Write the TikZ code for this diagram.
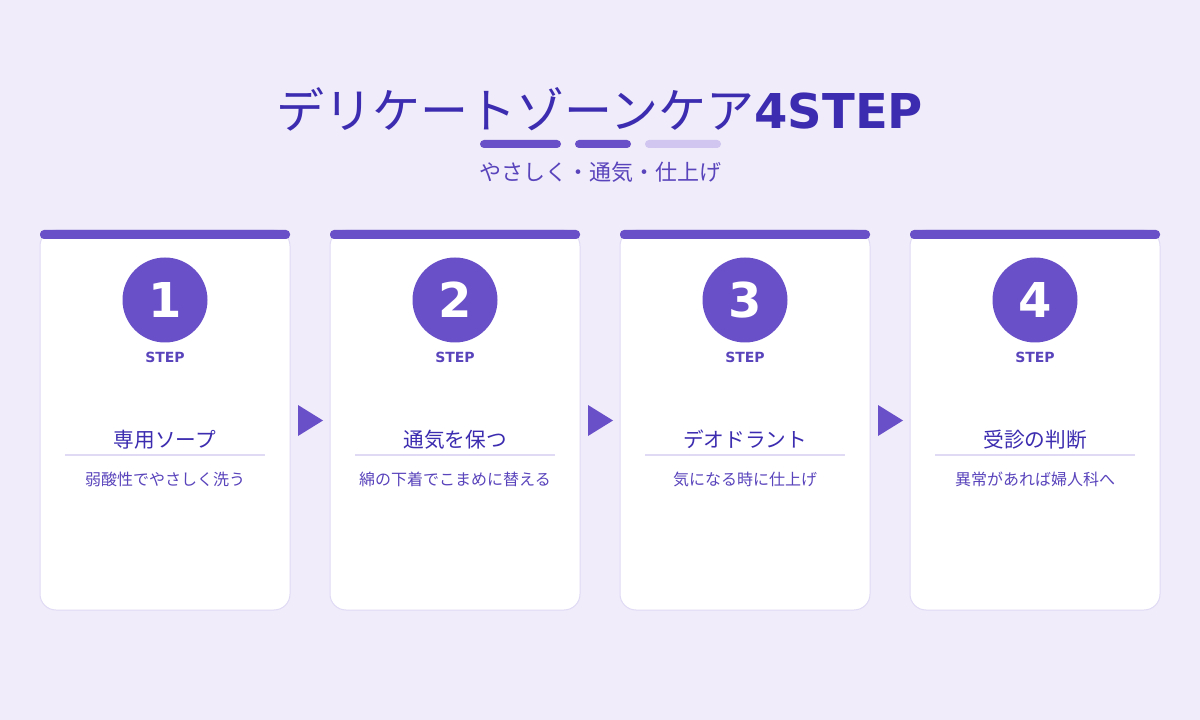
\documentclass[tikz,border=0pt]{standalone}
\usepackage{fontspec}
\setmainfont{DejaVu Sans}
\newfontfamily\jpfont{Noto Sans CJK JP}
\usetikzlibrary{positioning}

\definecolor{pagebg}{HTML}{F0ECFA}
\definecolor{accent}{HTML}{6A50C8}
\definecolor{accentlight}{HTML}{D0C6F0}
\definecolor{inkdark}{HTML}{3C2CB0}
\definecolor{inkmid}{HTML}{5A44BC}
\definecolor{cardline}{HTML}{E0DAF5}

\begin{document}
\begin{tikzpicture}[
    x=0.75pt, y=-0.75pt,
    card/.style={draw=cardline, line width=0.75pt, fill=white, rounded corners=12pt},
    topbar/.style={fill=accent, rounded corners=3pt},
    numcircle/.style={circle, fill=accent, minimum size=63.75pt, inner sep=0pt, text=white, font=\fontsize{36}{36}\selectfont\bfseries},
    steplabel/.style={anchor=base, inner sep=0pt, text=inkmid, font=\fontsize{10.5}{10.5}\selectfont\bfseries},
    cardtitle/.style={anchor=base, inner sep=0pt, text=inkdark, font=\fontsize{15.5}{15.5}\selectfont\jpfont},
    carddesc/.style={anchor=base, inner sep=0pt, text=inkmid, font=\fontsize{12}{12}\selectfont\jpfont},
    divider/.style={draw=cardline, line width=1.5pt}
]
\useasboundingbox[fill=pagebg] (0,0) rectangle (1200,720);

% heading
\node[anchor=base, inner sep=0pt, text=inkdark] (title) at (600,129)
  {\fontsize{36}{36}\selectfont{\jpfont デリケートゾーンケア}{\bfseries 4STEP}};
\fill[accent, rounded corners=3pt] (480,140) rectangle (561,148);
\fill[accent, rounded corners=3pt] (575,140) rectangle (631,148);
\fill[accentlight, rounded corners=3pt] (645,140) rectangle (721,148);
\node[anchor=base, inner sep=0pt, text=inkmid, font=\fontsize{16.5}{16.5}\selectfont\jpfont] (subtitle) at (600,181)
  {やさしく・通気・仕上げ};

% four cards
\foreach \n/\x/\ttl/\desc in {1/40/専用ソープ/弱酸性でやさしく洗う,
                               2/330/通気を保つ/綿の下着でこまめに替える,
                               3/620/デオドラント/気になる時に仕上げ,
                               4/910/受診の判断/異常があれば婦人科へ}{
  \draw[card] (\x,230) rectangle ++(250,380);
  \fill[topbar] (\x,239) -- ++(0,-9) -- ++(250,0) -- ++(0,9) -- cycle;
  \node[numcircle] (num\n) at (\x+125,300) {\n};
  \node[steplabel] (step\n) at (\x+125,363) {STEP};
  \node[cardtitle] (ttl\n) at (\x+125,447) {\ttl};
  \draw[divider] (\x+25,455) -- (\x+225,455);
  \node[carddesc] (desc\n) at (\x+125,485) {\desc};
}

% arrows between cards
\foreach \x in {298,588,878}
  \fill[accent] (\x,405) -- (\x+25,420.5) -- (\x,436) -- cycle;
\end{tikzpicture}
\end{document}
